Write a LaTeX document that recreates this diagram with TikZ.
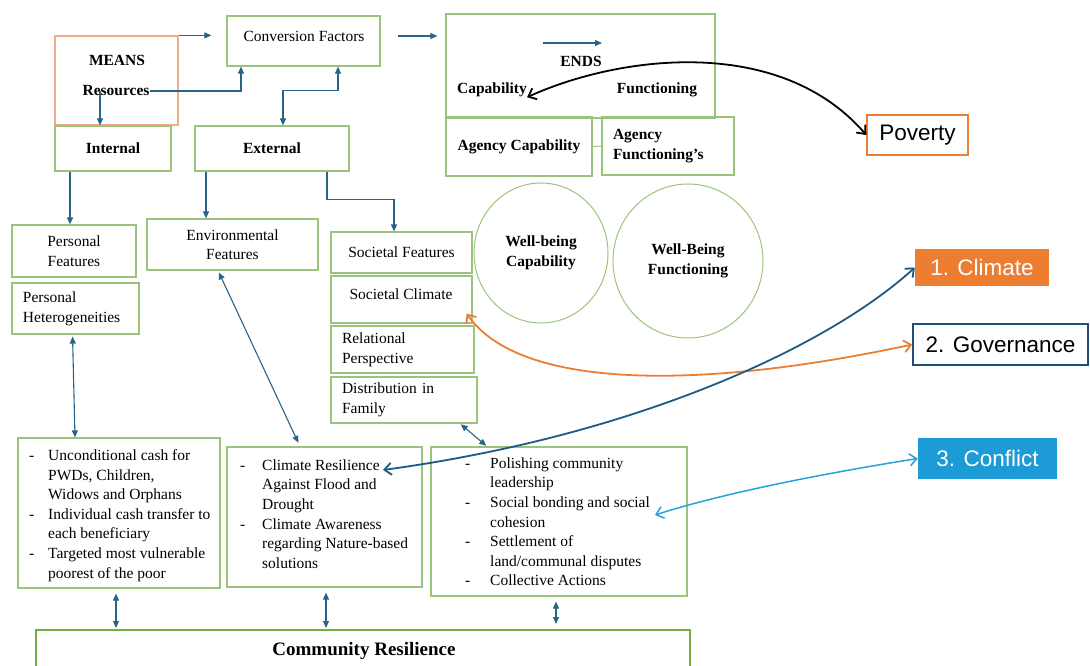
\documentclass[tikz,border=0pt]{standalone}
\usepackage{fontspec}
\setmainfont{Liberation Serif}
\newfontfamily\labelfont{Liberation Sans}
\usetikzlibrary{arrows.meta,shapes.geometric}

\definecolor{boxgreen}{RGB}{155,195,125}
\definecolor{commgreen}{RGB}{112,173,71}
\definecolor{meansorange}{RGB}{240,170,140}
\definecolor{flowblue}{RGB}{40,100,135}
\definecolor{povorange}{RGB}{237,125,49}
\definecolor{govblue}{RGB}{31,78,121}
\definecolor{curveblue}{RGB}{30,90,130}
\definecolor{curvelight}{RGB}{40,160,220}
\definecolor{conflictblue}{RGB}{28,155,215}

\newcommand\dashitem[2]{\makebox[#1][l]{-}#2}
\newcommand\dashcont[2]{\hspace*{#1}#2}

\tikzset{
  frame/.style={draw=boxgreen, line width=1.2pt, inner sep=0pt, align=center},
  lframe/.style={draw=boxgreen, line width=1.2pt, inner xsep=11pt, inner ysep=0pt, align=left},
  txt/.style={inner sep=0pt, align=left},
  flow/.style={draw=flowblue, line width=1.1pt, -{Triangle[length=7pt,width=6pt]}},
  flowb/.style={flow, {Triangle[length=7pt,width=6pt]}-{Triangle[length=7pt,width=6pt]}},
  curvy/.style={line width=1.8pt, {Straight Barb[length=7pt,width=12pt]}-{Straight Barb[length=7pt,width=12pt]}},
  tag/.style={inner sep=0pt, font=\labelfont\fontsize{22.5}{27}\selectfont},
}

\begin{document}
\begin{tikzpicture}[x=1pt, y=-1pt, font=\fontsize{15.5}{19.6}\selectfont]
\useasboundingbox (0,0) rectangle (1090,666);
\clip (0,0) rectangle (1090,666);

% means and conversion factors
\node[draw=meansorange, line width=1.2pt, minimum width=123pt, minimum height=89pt] (mean) at (116.5,80.5) {};
\node[txt] (meanstxt) at (117,60) {\textbf{MEANS}};
\node[txt] (restxt) at (116,91) {\textbf{Resources}};
\node[frame, minimum width=153pt, minimum height=50pt] (conv) at (303.5,41) {};
\node[txt] (convtxt) at (304,36) {Conversion Factors};

% ends
\node[frame, minimum width=269pt, minimum height=104pt] (ends) at (580.5,66) {};
\node[txt] (endstxt) at (581,61) {\textbf{ENDS}};
\node[txt] (captxt) at (492,90) {\textbf{Capability}};
\node[txt] (funtxt) at (657,90) {\textbf{Functioning}};
\node[frame, minimum width=146pt, minimum height=59pt] (agcap) at (519,146.5) {\textbf{Agency Capability}};
\node[lframe, text width=110pt, minimum height=58pt] (agfun) at (668,146) {\textbf{Agency}\\\textbf{Functioning’s}};
\coordinate (endsa) at (543,43);
\coordinate (endsb) at (602,43);

% internal / external
\node[frame, minimum width=116pt, minimum height=45pt] (internal) at (113,148.5) {\textbf{Internal}};
\node[frame, minimum width=154pt, minimum height=45pt] (external) at (272,148.5) {\textbf{External}};

\node[frame, minimum width=124pt, minimum height=52pt] (pers) at (74,251) {Personal\\Features};
\node[lframe, text width=105pt, minimum height=51pt] (hetero) at (75.5,308.5) {Personal\\Heterogeneities};
\node[frame, minimum width=171pt, minimum height=51pt] (env) at (232.5,244.5) {Environmental\\Features};
\node[frame, minimum width=141pt, minimum height=41pt] (socf) at (401.5,252.5) {Societal Features};
\node[frame, minimum width=141pt, minimum height=47pt] (socc) at (401.5,299.5) {};
\node[txt] (socctxt) at (401,294) {Societal Climate};
\node[lframe, text width=121pt, minimum height=47pt] (rel) at (402.5,349.5) {Relational\\Perspective};
\node[lframe, text width=124pt, minimum height=46pt] (dist) at (404,400) {Distribution in\\Family};

% well-being
\node[ellipse, draw=boxgreen, line width=1pt, minimum width=134pt, minimum height=140pt, align=center] (wbcap) at (541,253) {\textbf{Well-being}\\\textbf{Capability}};
\node[ellipse, draw=boxgreen, line width=1pt, minimum width=150pt, minimum height=154pt, align=center] (wbfun) at (688,261) {\textbf{Well-Being}\\\textbf{Functioning}};

% labels on the right
\node[tag, draw=povorange, line width=1.5pt, minimum width=101pt, minimum height=40pt] (poverty) at (917.5,135) {Poverty};
\node[tag, fill=povorange, text=white, minimum width=134pt, minimum height=37pt] (climate) at (982,267.5) {1. Climate};
\node[tag, draw=govblue, fill=white, line width=1.5pt, minimum width=175pt, minimum height=41pt] (gov) at (1000.5,344.5) {2. Governance};
\node[tag, fill=conflictblue, text=white, minimum width=139pt, minimum height=41pt] (conflict) at (987.5,458.5) {3. Conflict};

% interventions
\node[frame, minimum width=202pt, minimum height=150pt] (cashbox) at (119,513) {};
\node[txt, anchor=north west] (cashtxt) at (29,449.4) {\dashitem{19pt}{Unconditional cash for}\\\dashcont{19pt}{PWDs, Children,}\\\dashcont{19pt}{Widows and Orphans}\\\dashitem{19pt}{Individual cash transfer to}\\\dashcont{19pt}{each beneficiary}\\\dashitem{19pt}{Targeted most vulnerable}\\\dashcont{19pt}{poorest of the poor}};
\node[frame, minimum width=195pt, minimum height=140pt] (climbox) at (324.5,517) {};
\node[txt, anchor=north west] (climtxt) at (240,459.4) {\dashitem{22pt}{Climate Resilience}\\\dashcont{22pt}{Against Flood and}\\\dashcont{22pt}{Drought}\\\dashitem{22pt}{Climate Awareness}\\\dashcont{22pt}{regarding Nature-based}\\\dashcont{22pt}{solutions}};
\node[frame, minimum width=256pt, minimum height=149pt] (socbox) at (559,521.5) {};
\node[txt, anchor=north west] (soctxt) at (465,457.4) {\dashitem{25pt}{Polishing community}\\\dashcont{25pt}{leadership}\\\dashitem{25pt}{Social bonding and social}\\\dashcont{25pt}{cohesion}\\\dashitem{25pt}{Settlement of}\\\dashcont{25pt}{land/communal disputes}\\\dashitem{25pt}{Collective Actions}};

\node[draw=commgreen, line width=2pt, minimum width=654pt, minimum height=60pt] (commres) at (363,660) {};
\node[txt, font=\fontsize{19}{23}\selectfont] (commtxt) at (364,651) {\textbf{Community Resilience}};

% tips of the curved arrows
\coordinate (crtip) at (383,470);
\coordinate (sbtip) at (655,515);
\coordinate (convin) at ([xshift=-15pt]conv.west |- mean.north east);
\coordinate (convout) at ([xshift=17pt]conv.east |- convtxt);
\coordinate (endsin) at ([xshift=-8pt]ends.west |- convtxt);

% connectors
\draw[flow] (mean.north east) -- (convin);
\draw[flow] (convout) -- (endsin);
\draw[flow] (endsa) -- (endsb);
\draw[flow] (restxt.east) -| ([xshift=-62.5pt]conv.south);
\draw[flow] ([xshift=-16pt]restxt.center) -- ([xshift=-13pt]internal.north);
\draw[flowb] ([xshift=11pt]external.north) |- ([xshift=34.5pt,yshift=-24pt]conv.south) -- ([xshift=34.5pt]conv.south);
\draw[flow] ([xshift=-43pt]internal.south) -- ([xshift=-43pt]internal.south |- pers.north);
\draw[flow] ([xshift=-66pt]external.south) -- ([xshift=-66pt]external.south |- env.north);
\draw[flow] ([xshift=55pt]external.south) |- ([xshift=-7.5pt,yshift=32pt]socf.north) -- ([xshift=-7.5pt]socf.north);
\draw[draw=boxgreen, line width=1pt] (agcap.east) -- (agfun.west);

\draw[flowb, shorten <=2pt] ([xshift=-3pt]hetero.south) -- ([xshift=-44pt]cashbox.north);
\draw[flowb, shorten <=2pt, shorten >=4pt] ([xshift=-14.5pt]env.south) -- ([xshift=-24.5pt]climbox.north);
\draw[flowb, shorten <=1pt, shorten >=1pt] ([xshift=56pt]dist.south) -- ([xshift=-72pt]socbox.north);
\draw[flowb, shorten <=5pt, shorten >=1pt] ([xshift=-3pt]cashbox.south) -- ([xshift=-3pt]cashbox.south |- commres.north);
\draw[flowb, shorten <=5pt, shorten >=1pt] ([xshift=1.5pt]climbox.south) -- ([xshift=1.5pt]climbox.south |- commres.north);
\draw[flowb, shorten <=5pt, shorten >=5pt] ([xshift=-3pt]socbox.south) -- ([xshift=-3pt]socbox.south |- commres.north);

% curved links to the themes
\draw[curvy, black] (captxt.south east) .. controls (620,55) and (780,35) .. (poverty.west);
\draw[curvy, povorange] ([xshift=-6pt,yshift=10pt]socc.south east) .. controls (520,390) and (700,390) .. (gov.west);
\draw[curvy, curveblue] (crtip) .. controls (640,435) and (830,345) .. (climate.west);
\draw[curvy, curvelight, line width=1.5pt] (sbtip) .. controls (720,494) and (820,474) .. (conflict.west);
\end{tikzpicture}
\end{document}
